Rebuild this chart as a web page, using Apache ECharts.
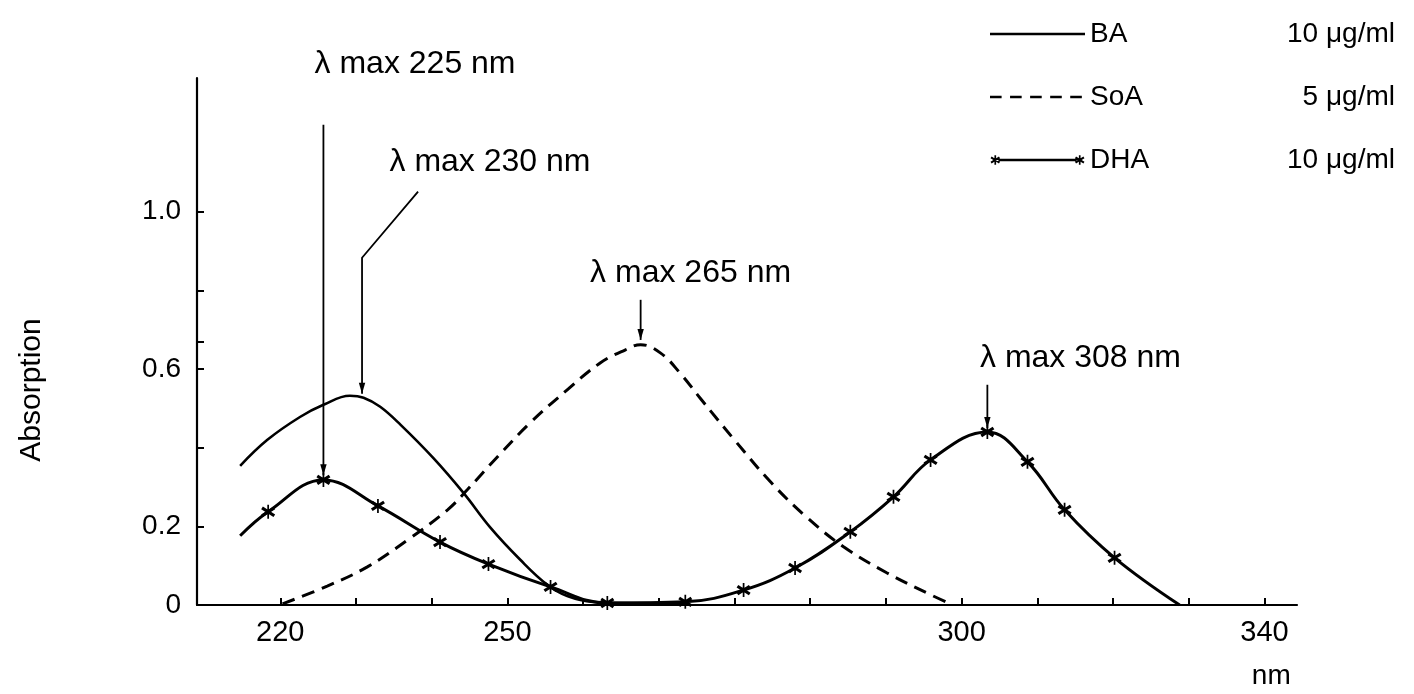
<!DOCTYPE html>
<html>
<head>
<meta charset="utf-8">
<script src="https://cdn.jsdelivr.net/npm/echarts@6/dist/echarts.min.js"></script>
<style>
html,body{margin:0;padding:0;background:#fff;}
#chart{width:1414px;height:694px;}
</style>
</head>
<body>
<div id="chart"></div>
<script>
// ---------- data (wavelength in nm on the drawn scale, absorption) ----------
const baNm   = [214.7,218.3,222.6,225.7,229.2,231.0,233.2,235.9,240.2,244.2,247.7,251.7,255.3,257.9,261.3,266.6,273.0];
const baAbs  = [0.354,0.420,0.478,0.509,0.532,0.527,0.504,0.458,0.374,0.285,0.198,0.115,0.051,0.023,0.008,0.005,0.005];

const soaNm  = [220.3,226.2,231.5,236.8,242.1,244.7,248.7,253.0,257.9,262.3,265.6,267.6,270.2,272.8,275.5,280.2,284.9,289.6,294.4,300.1,305.7,308.5];
const soaAbs = [0.003,0.048,0.097,0.165,0.242,0.293,0.377,0.463,0.547,0.616,0.649,0.662,0.641,0.590,0.525,0.415,0.310,0.222,0.148,0.082,0.028,0.003];

const dhaNm  = [214.7,218.4,225.7,232.9,241.1,247.5,255.7,263.2,273.5,281.2,288.0,295.3,301.0,305.9,313.4,318.7,323.6,330.2,338.8];
const dhaAbs = [0.176,0.237,0.318,0.252,0.160,0.104,0.046,0.005,0.008,0.038,0.094,0.186,0.275,0.369,0.440,0.364,0.242,0.120,0.000];

const seriesNames = ['BA','SoA','DHA'];
const concentrations = ['10 μg/ml','5 μg/ml','10 μg/ml'];

const xTickValues = [220,230,240,250,260,270,280,290,300,310,320,330,340,350];
const xLabelValues = [220,250,310,350];
const xLabelTexts  = ['220','250','300','340'];
const yTickValues = [0.2,0.4,0.6,0.67,0.8,1.0];
const yLabelValues = [0,0.2,0.6,1.0];
const yLabelTexts  = ['0','0.2','0.6','1.0'];

const annotations = [
  {text:'λ max 225 nm', at:[237.8,1.374], path:[[225.7,1.221],[225.7,0.33]]},
  {text:'λ max 230 nm', at:[247.7,1.125], path:[[238.2,1.051],[230.8,0.883],[230.8,0.537]]},
  {text:'λ max 265 nm', at:[274.2,0.845], path:[[267.6,0.776],[267.6,0.674]]},
  {text:'λ max 308 nm', at:[325.7,0.628], path:[[313.4,0.560],[313.4,0.450]]}
];

// ---------- chart ----------
const FONT = '"Liberation Sans", Arial, Helvetica, sans-serif';
const STAR = 'path://M4.4,0H5.6V10H4.4Z M0.1,3.1L1.3,1.3L9.9,6.9L8.7,8.7Z M8.7,1.3L9.9,3.1L1.3,8.7L0.1,6.9Z';
const BOX = 'M0,0L0.01,0L0,0.01Z M90,10L89.99,10L90,9.99Z ';
const ICON_BA  = 'path://' + BOX + 'M0,3.9H90V6.1H0Z';
const ICON_SOA = 'path://' + BOX + 'M0,3.8H11V6.2H0Z M19,3.8H30V6.2H19Z M38,3.8H49V6.2H38Z M57,3.8H68V6.2H57Z M76,3.8H87V6.2H76Z';
const ICON_DHA = 'path://' + BOX +
  'M4.2,0.5H5.8V9.5H4.2Z M0.5,3.4L1.5,1.8L9.5,6.6L8.5,8.2Z M8.5,1.8L9.5,3.4L1.5,8.2L0.5,6.6Z ' +
  'M8,3.9H82V6.1H8Z ' +
  'M84.2,0.5H85.8V9.5H84.2Z M80.5,3.4L81.5,1.8L89.5,6.6L88.5,8.2Z M88.5,1.8L89.5,3.4L81.5,8.2L80.5,6.6Z';

const zip = (a,b) => a.map((v,i)=>[v,b[i]]);

const chart = echarts.init(document.getElementById('chart'), null, {renderer:'canvas'});
const option = {
  backgroundColor:'#fff',
  animation:false,
  textStyle:{fontFamily:FONT, color:'#000'},
  grid:{left:197, right:117, top:78, bottom:89, containLabel:false},
  legend:{
    orient:'vertical', left:985, top:15, itemGap:35,
    itemWidth:95, itemHeight:13, selectedMode:false,
    data:[{name:'BA',icon:ICON_BA},{name:'SoA',icon:ICON_SOA},{name:'DHA',icon:ICON_DHA}],
    formatter: function(name){
      const i = seriesNames.indexOf(name);
      return '{n|' + name + '}{c|' + concentrations[i] + '}';
    },
    textStyle:{
      fontFamily:FONT, color:'#000',
      rich:{
        n:{fontSize:28, fontFamily:FONT, width:160, lineHeight:30, color:'#000'},
        c:{fontSize:28, fontFamily:FONT, width:145, align:'right', lineHeight:30, color:'#000'}
      }
    }
  },
  xAxis:{
    type:'value', min:209, max:354.3,
    axisLine:{lineStyle:{color:'#000', width:2.2}},
    axisTick:{show:true, inside:true, length:7, lineStyle:{color:'#000', width:2}, customValues:xTickValues},
    axisLabel:{
      customValues:xLabelValues, margin:13, fontSize:29, color:'#000', fontFamily:FONT,
      formatter: v => { const i = xLabelValues.indexOf(v); return i>=0 ? xLabelTexts[i] : ''; }
    },
    splitLine:{show:false}
  },
  yAxis:{
    type:'value', min:0, max:1.34,
    axisLine:{show:true, lineStyle:{color:'#000', width:2.2}},
    axisTick:{show:true, inside:true, length:7, lineStyle:{color:'#000', width:2}, customValues:yTickValues},
    axisLabel:{
      customValues:yLabelValues, margin:16, fontSize:28, color:'#000', fontFamily:FONT,
      formatter: v => { const i = yLabelValues.findIndex(t => Math.abs(t-v)<1e-9); return i>=0 ? yLabelTexts[i] : ''; }
    },
    splitLine:{show:false}
  },
  series:[
    {name:'BA', type:'line', data:zip(baNm,baAbs), smooth:0.4, showSymbol:false, symbol:'none',
     color:'#000', lineStyle:{color:'#000', width:2.6}},
    {name:'SoA', type:'line', data:zip(soaNm,soaAbs), smooth:0.4, showSymbol:false, symbol:'none',
     color:'#000', lineStyle:{color:'#000', width:3, type:[13,8]}},
    {name:'DHA', type:'line', data:zip(dhaNm,dhaAbs), smooth:0.4,
     symbol: function(v, p){ return (p.dataIndex===0 || p.dataIndex===dhaNm.length-1) ? 'none' : STAR; },
     symbolSize:14, showAllSymbol:true,
     color:'#000', itemStyle:{color:'#000'}, lineStyle:{color:'#000', width:3}}
  ]
};
chart.setOption(option);

function drawOverlay(){
  const g = [];
  annotations.forEach(a => {
    const pts = a.path.map(p => chart.convertToPixel({gridIndex:0}, p));
    g.push({type:'polyline', shape:{points:pts}, style:{stroke:'#000', lineWidth:1.8, fill:null}, silent:true});
    const e = pts[pts.length-1], s = pts[pts.length-2];
    const dx = e[0]-s[0], dy = e[1]-s[1], L = Math.hypot(dx,dy), ux = dx/L, uy = dy/L;
    const bx = e[0]-ux*11, by = e[1]-uy*11;
    g.push({type:'polygon', shape:{points:[[bx-uy*3.2,by+ux*3.2],[bx+uy*3.2,by-ux*3.2],[e[0],e[1]]]},
            style:{fill:'#000'}, silent:true});
    const t = chart.convertToPixel({gridIndex:0}, a.at);
    g.push({type:'text', x:t[0], y:t[1], silent:true,
            style:{text:a.text, fontSize:32, fontFamily:FONT, fill:'#000', align:'center', verticalAlign:'middle'}});
  });
  const nmPos = chart.convertToPixel({gridIndex:0}, [350.9, 0]);
  g.push({type:'text', x:nmPos[0], y:nmPos[1]+71, silent:true,
          style:{text:'nm', fontSize:28, fontFamily:FONT, fill:'#000', align:'center', verticalAlign:'middle'}});
  g.push({type:'text', x:32, y:390, rotation:Math.PI/2, silent:true,
          style:{text:'Absorption', fontSize:30, fontFamily:FONT, fill:'#000', align:'center', verticalAlign:'middle'}});
  chart.setOption({graphic:{elements:g}});
}
drawOverlay();
</script>
</body>
</html>
